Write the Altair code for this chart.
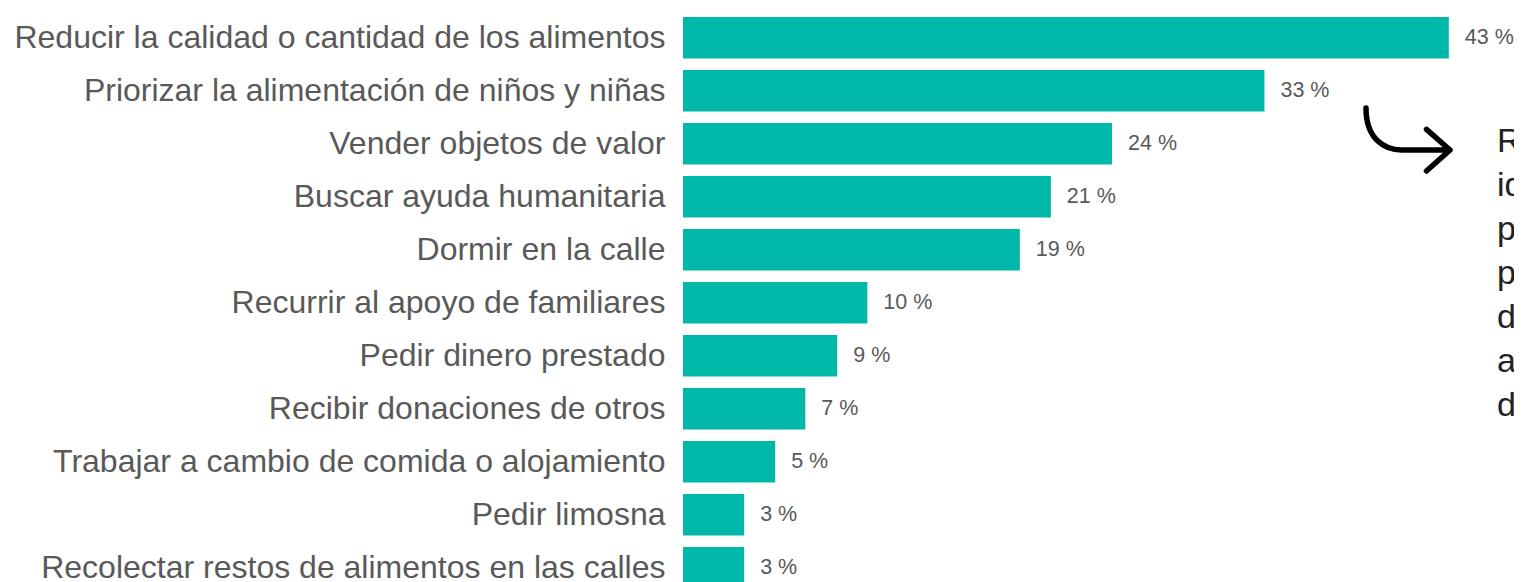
import altair as alt
import pandas as pd

categories = [
    "Reducir la calidad o cantidad de los alimentos",
    "Priorizar la alimentación de niños y niñas",
    "Vender objetos de valor",
    "Buscar ayuda humanitaria",
    "Dormir en la calle",
    "Recurrir al apoyo de familiares",
    "Pedir dinero prestado",
    "Recibir donaciones de otros",
    "Trabajar a cambio de comida o alojamiento",
    "Pedir limosna",
    "Recolectar restos de alimentos en las calles",
]
values = [43.2, 32.8, 24.2, 20.75, 19.0, 10.4, 8.7, 6.9, 5.2, 3.45, 3.45]

note_lines = [
    "Respuestas más",
    "identificadas",
    "por las",
    "personas",
    "desplazadas",
    "al momento",
    "de la encuesta",
]

FONT = "Liberation Sans"
TEAL = "#00B8AA"
GREY = "#595959"

ARROW_PATH = (
    "M -1 -0.75 C -1 0.0 -0.55 0.25 -0.15 0.25 L 1 0.25 "
    "M 0.44 -0.24 L 1 0.25 L 0.44 0.75"
)

df = pd.DataFrame({"cat": categories, "pct": values})

x = alt.X("pct:Q", scale=alt.Scale(domain=[0, 44], nice=False, zero=True), axis=None)
y = alt.Y(
    "cat:N",
    sort=None,
    scale=alt.Scale(paddingInner=0.217, paddingOuter=0.1085),
    axis=alt.Axis(
        title=None,
        ticks=False,
        domain=False,
        grid=False,
        labelPadding=18,
        labelFontSize=32,
        labelFont=FONT,
        labelColor=GREY,
        labelLimit=900,
    ),
)

bars = alt.Chart(df).mark_bar(color=TEAL).encode(x=x, y=y)

labels = (
    alt.Chart(df)
    .transform_calculate(lbl="format(datum.pct, '.0f') + ' %'")
    .mark_text(align="left", baseline="middle", dx=16, fontSize=21.5, font=FONT, color=GREY)
    .encode(x=x, y=y, text="lbl:N")
)

anno_df = pd.DataFrame({"k": [0]})

arrow = (
    alt.Chart(anno_df)
    .mark_point(
        shape=ARROW_PATH,
        size=7056,
        filled=False,
        stroke="black",
        strokeWidth=5.5,
        strokeCap="round",
        strokeJoin="round",
        opacity=1,
    )
    .encode(x=alt.value(725), y=alt.value(128.25))
)

note = (
    alt.Chart(anno_df)
    .mark_text(
        align="left",
        baseline="alphabetic",
        fontSize=34,
        lineHeight=44,
        font=FONT,
        color="#222222",
    )
    .encode(x=alt.value(814), y=alt.value(140.75), text=alt.value(note_lines))
)

chart = (
    alt.layer(bars, labels, arrow, note)
    .properties(
        width=780,
        height=583,
        background="white",
        autosize=alt.AutoSizeParams(type="none"),
        padding={"left": 675, "top": 3.25, "right": 51, "bottom": 0},
    )
    .configure_view(strokeWidth=0, stroke="transparent")
)

chart.save("out.html", embed_options={"renderer": "svg", "actions": False})
